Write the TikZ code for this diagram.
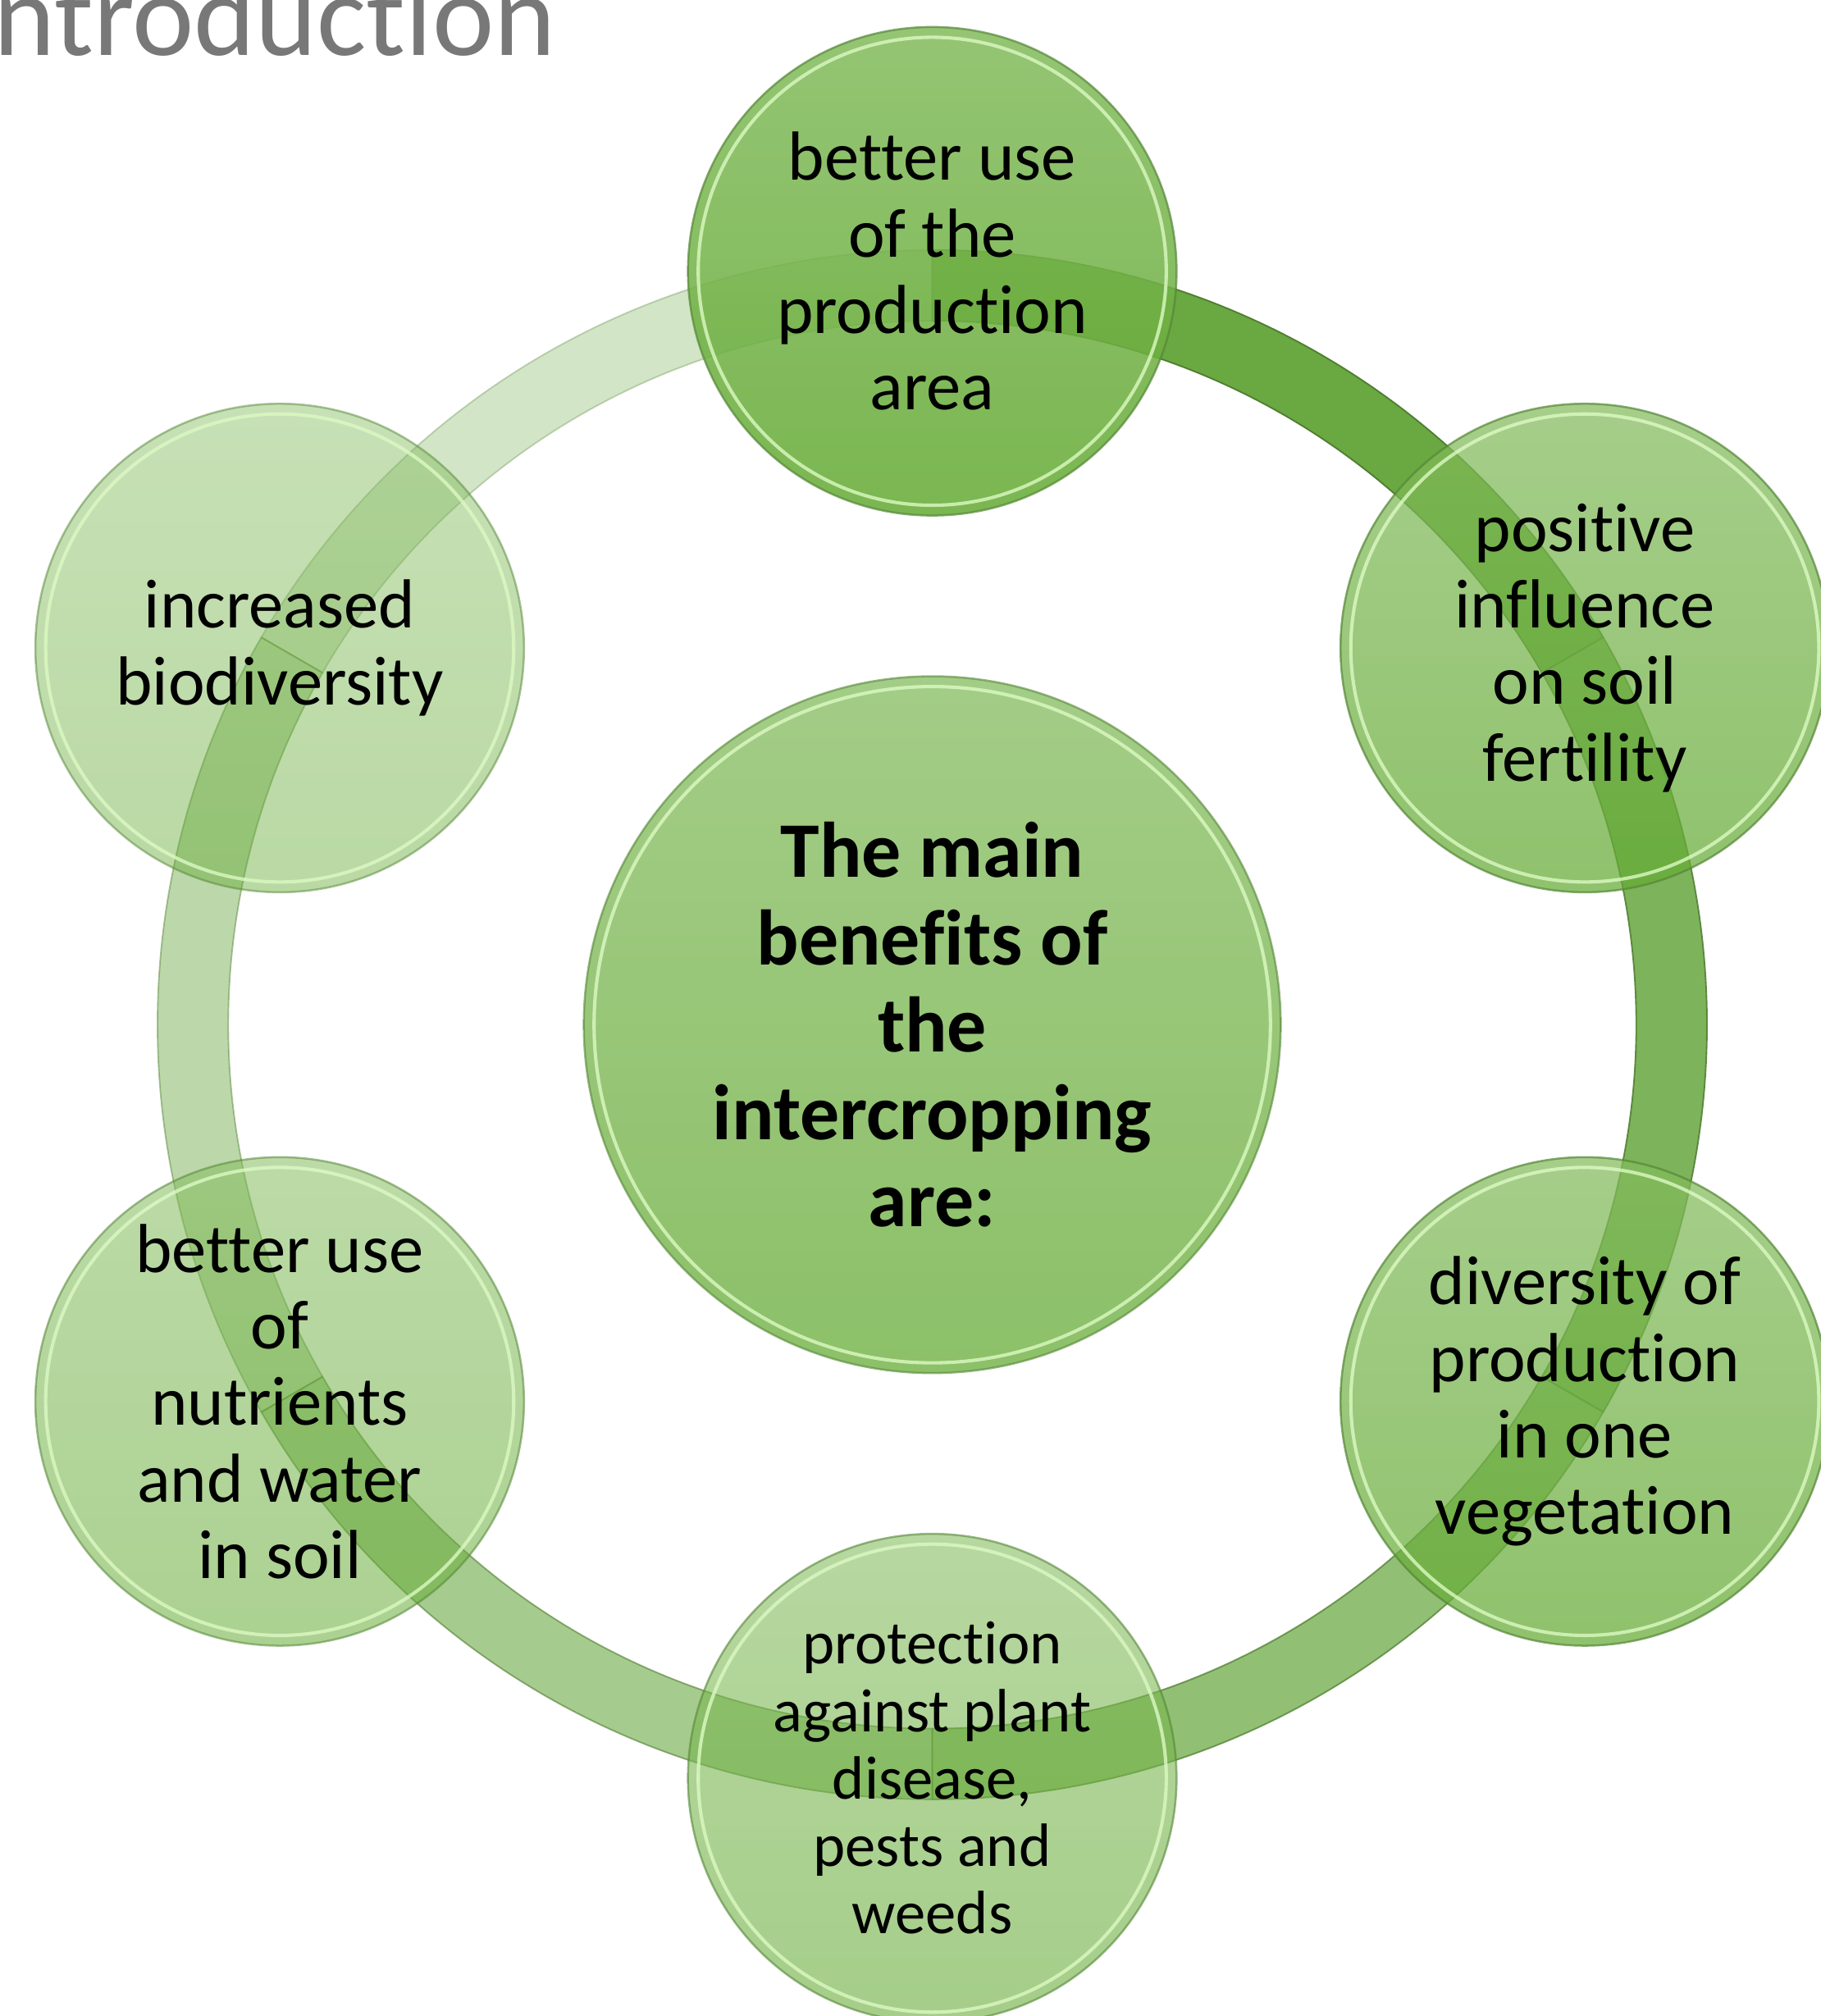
\documentclass[tikz,border=0pt]{standalone}
\usepackage{fontspec}
\setmainfont{Carlito}[Ligatures={NoCommon}]
\usetikzlibrary{calc}
\definecolor{ringc}{RGB}{106,168,66}
\definecolor{circc}{RGB}{100,170,52}
\definecolor{rimdark}{RGB}{85,135,55}
\definecolor{rimlight}{RGB}{220,250,195}
\definecolor{titlec}{RGB}{120,120,120}
\begin{document}
\begin{tikzpicture}[x=0.5pt,y=0.5pt,
  seg/.style={fill=ringc, draw=ringc!75!black, line width=0.6pt},
  bubble/.style={circle, inner sep=0pt, minimum size=190pt, shade,
    top color=circc!80!white, bottom color=circc, draw=rimdark, line width=0.8pt,
    text opacity=1, text=black, align=center, font=\fontsize{27}{29.75}\selectfont},
  hub/.style={bubble, minimum size=271pt, font=\bfseries\fontsize{30.6}{34}\selectfont},
  rim/.style={draw=rimlight, line width=1.3pt, opacity=0.8}]
\useasboundingbox (0,0) rectangle (1416,1568);
\coordinate (C) at (725,771);
% ring segments
\foreach \a/\b/\o in {90/30/1, 30/-30/0.87, -30/-90/0.74, -90/-150/0.6, 210/150/0.45, 150/90/0.3}{
  \path[seg, fill opacity=\o, draw opacity=\o]
    ($(C)+(\a:301.25pt)$) arc[start angle=\a, end angle=\b, radius=301.25pt]
    -- ($(C)+(\b:273.75pt)$) arc[start angle=\b, end angle=\a, radius=273.75pt] -- cycle;
}
% outer circles
\node[bubble, fill opacity=0.86, draw opacity=0.7] (top) at ($(C)+(90:586)$) {better use\\of the\\production\\area};
\node[bubble, fill opacity=0.72, draw opacity=0.7] (ur) at ($(C)+(30:586)$) {positive\\influence\\on soil\\fertility};
\node[bubble, fill opacity=0.72, draw opacity=0.7] (lr) at ($(C)+(-30:586)$) {diversity of\\production\\in one\\vegetation};
\node[bubble, fill opacity=0.58, draw opacity=0.6, font=\fontsize{23.8}{26.25}\selectfont] (bot) at ($(C)+(-90:586)$) {protection\\against plant\\disease,\\pests and\\weeds};
\node[bubble, fill opacity=0.54, draw opacity=0.55] (ll) at ($(C)+(210:586)$) {better use\\of\\nutrients\\and water\\in soil};
\node[bubble, fill opacity=0.45, draw opacity=0.5] (ul) at ($(C)+(150:586)$) {increased\\biodiversity};
% centre
\node[hub, fill opacity=0.74, draw opacity=0.6] (hub) at (C) {The main\\benefits of\\the\\intercropping\\are:};
% rims
\foreach \n in {top,ur,lr,bot,ll,ul}{\draw[rim] (\n.center) circle[radius=91pt];}
\draw[rim] (hub.center) circle[radius=131.5pt];
% title
\node[anchor=base west, inner sep=0pt, text=titlec, font=\fontsize{45.5}{50}\selectfont] (title) at (-5,1525) {ntroduction};
\end{tikzpicture}
\end{document}
